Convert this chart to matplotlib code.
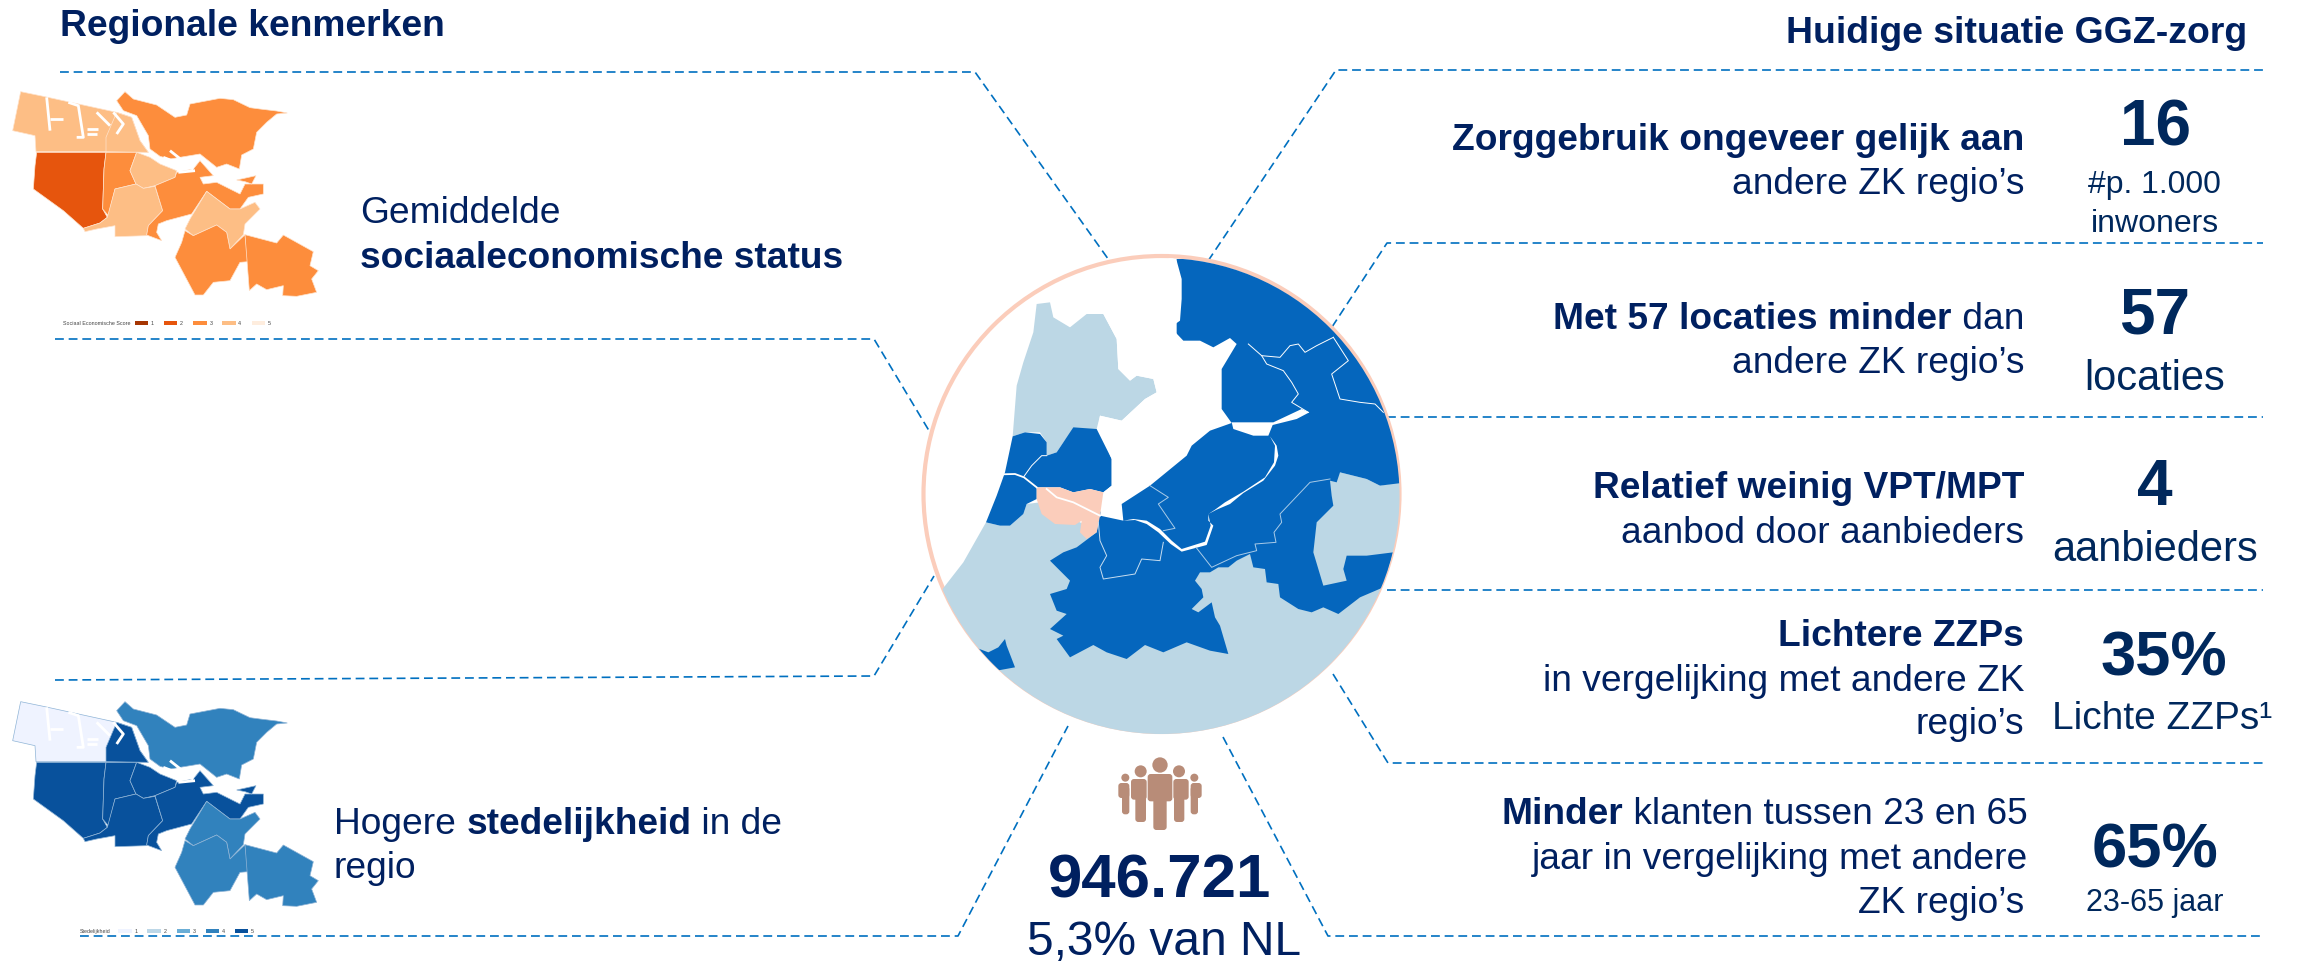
import matplotlib
matplotlib.use("Agg")
import matplotlib.pyplot as plt
from matplotlib.patches import Polygon, Circle, FancyBboxPatch, Rectangle

plt.rcParams['font.family'] = ['Liberation Sans', 'DejaVu Sans']
NAVY = '#002060'; KPI = '#00285C'; LINK = '#0070C0'; LIGHT = '#BCD7E5'; DARK = '#0566BD'; PINK = '#FBCDBB'; ICON = '#B88C78'

# ---------- text content ----------
title_left = "Regionale kenmerken"
title_right = "Huidige situatie GGZ-zorg"
left_labels = [
    (360, 210, [("Gemiddelde", False)]),
    (360, 255, [("sociaaleconomische status", True)]),
    (334, 821, [("Hogere ", False), ("stedelijkheid", True), (" in de", False)]),
    (334, 865, [("regio", False)]),
]
right_labels = [
    (2024, 137, [("Zorggebruik ongeveer gelijk aan", True)]),
    (2024, 181, [("andere ZK regio’s", False)]),
    (2024, 316, [("Met 57 locaties minder", True), (" dan", False)]),
    (2024, 360, [("andere ZK regio’s", False)]),
    (2024, 485, [("Relatief weinig VPT/MPT", True)]),
    (2024, 530, [("aanbod door aanbieders", False)]),
    (2024, 633, [("Lichtere ZZPs", True)]),
    (2024, 678, [("in vergelijking met andere ZK", False)]),
    (2024, 721, [("regio’s", False)]),
    (2028, 811, [("Minder", True), (" klanten tussen 23 en 65", False)]),
    (2028, 856, [("jaar in vergelijking met andere", False)]),
    (2024, 900, [("ZK regio’s", False)]),
]
kpi_values = [(2155, 123, "16", 46), (2155, 311, "57", 46), (2155, 482, "4", 46), (2164, 653, "35%", 45.5), (2155, 845, "65%", 45.5)]
kpi_units = [(2154, 181, "#p. 1.000", 23), (2155, 220, "inwoners", 23), (2155, 375, "locaties", 30),
             (2155, 546, "aanbieders", 30), (2162, 715, "Lichte ZZPs¹", 28), (2155, 900, "23-65 jaar", 22)]
population = "946.721"
population_share = "5,3% van NL"

# ---------- connector lines (full-size pixels) ----------
connectors = [
    [(60, 73), (975, 73), (1111, 264)],
    [(55, 340), (874, 340), (934, 440)],
    [(55, 681), (874, 677), (934, 577)],
    [(80, 937), (958, 937), (1068, 727)],
    [(1208, 262), (1336, 71), (2263, 71)],
    [(1332, 328), (1387, 244), (2263, 244)],
    [(1387, 418), (2263, 418)],
    [(1387, 591), (2263, 591)],
    [(1333, 675), (1388, 764), (2263, 764)],
    [(1223, 738), (1328, 937), (2263, 937)],
]

# ---------- centre map, outlines in 3x crop coordinates ----------
map_south = [(120,1060),(190,970),(258,850),(300,860),(330,860),(370,825),(380,795),(420,790),(600,880),(1000,950),(1320,700),(1400,720),(1440,740),(1495,730),(1520,730),(1520,1500),(100,1500)]
map_nh = [(410,195),(450,190),(460,235),(510,265),(560,225),(610,225),(650,300),(655,390),(690,425),(710,410),(760,420),(770,460),(735,480),(665,545),(600,530),(590,570),(520,570),(490,610),(470,640),(440,650),(440,610),(420,580),(375,580),(338,592),(350,440),(370,370),(400,280)]
map_kennemer = [(338,592),(375,580),(420,585),(440,610),(440,650),(470,640),(490,610),(520,565),(590,570),(635,660),(635,740),(610,760),(570,750),(520,760),(480,745),(410,745),(410,780),(380,795),(370,825),(330,860),(300,860),(258,850),(290,770),(315,700)]
map_east = [(830,60),(1500,60),(1520,500),(1520,730),(1440,740),(1400,720),(1320,700),(1310,730),(1290,725),(1295,770),(1300,800),(1250,850),(1240,940),(1270,1040),(1340,1025),(1330,990),(1340,950),(1400,950),(1480,940),(1450,1045),(1380,1075),(1315,1125),(1270,1105),(1235,1120),(1195,1110),(1140,1075),(1135,1035),(1100,1030),(1095,990),(1060,985),(1050,945),(1010,965),(985,985),(955,985),(930,1000),(900,1000),(885,1025),(905,1050),(910,1075),(875,1110),(895,1120),(935,1090),(945,1135),(960,1160),(985,1245),(930,1235),(860,1210),(790,1240),(735,1218),(680,1260),(620,1240),(580,1218),(510,1255),(470,1200),(490,1190),(450,1170),(500,1125),(470,1115),(450,1065),(500,1050),(510,1025),(450,965),(490,940),(530,925),(590,880),(600,820),(700,700),(830,500)]
map_lake = [(815,55),(830,65),(845,120),(845,180),(840,245),(812,265),(850,305),(900,305),(940,325),(990,297),(1010,315),(965,390),(965,510),(995,552),(930,575),(875,620),(860,650),(750,740),(665,795),(670,845),(600,830),(610,760),(635,740),(635,660),(595,560),(600,530),(665,545),(735,480),(770,460),(760,420),(710,410),(690,425),(655,390),(650,300),(610,225),(700,100)]
map_channel = [(995,550),(1120,550),(1205,510),(1228,520),(1190,540),(1118,558),(1105,590),(1060,590),(1000,570)]
map_loosdrecht = [(670,845),(705,843),(740,855),(775,880),(812,915),(845,938),(920,918),(940,860),(925,845),(925,825),(950,812),(990,795),(1030,762),(1090,725),(1125,680),(1135,650),(1130,620),(1110,592),(1125,620),(1122,670),(1095,715),(1030,758),(975,790),(945,812),(925,825),(932,860),(915,908),(845,930),(815,905),(780,870),(740,845),(700,840)]
map_amsterdam = [(410,745),(480,745),(520,760),(570,750),(610,760),(600,830),(590,880),(560,900),(540,880),(545,845),(525,858),(465,855),(425,825),(410,780)]
map_blob = [(225,1225),(265,1240),(295,1225),(315,1200),(320,1220),(345,1285),(290,1295),(260,1270)]
map_white_lines = [
    [(302,706),(345,705),(372,715),(410,745)],
    [(440,750),(470,775),(520,790),(560,810),(600,830)],
    [(372,712),(395,680),(425,650),(440,650)],
    [(1045,315),(1085,350),(1100,375),(1150,395),(1175,430),(1195,465),(1175,490),(1225,520)],
    [(1085,350),(1140,355),(1170,320),(1195,315),(1215,340),(1250,320),(1300,295)],
    [(1300,295),(1345,365),(1295,405),(1320,480),(1380,490),(1425,495),(1450,520)],
    [(1290,720),(1230,730),(1140,825),(1145,850),(1122,880),(1128,910),(1065,915),(1070,935),(1010,950),(935,985),(888,925)],
    [(750,740),(805,775),(775,795),(825,868),(790,875)],
    [(595,850),(600,905),(620,950),(600,985),(610,1020),(705,1005),(725,960),(780,965),(790,910)],
]
map_line_colors = ['white', 'white', 'white', 'white', 'white', 'white', '#A9CBE8', '#A9CBE8', '#C9DEF0']

# ---------- Amsterdam district maps, in 3x crop coordinates ----------
d_westpoort = [(62,68),(130,82),(350,130),(395,145),(420,215),(445,250),(410,248),(108,248),(105,200),(38,185)]
d_havens = [(318,248),(318,205),(350,130),(395,145),(420,215),(445,250)]
d_nieuwwest = [(110,250),(318,250),(312,300),(308,420),(322,445),(300,462),(250,478),(190,425),(100,360),(105,290)]
d_west = [(318,250),(410,250),(390,305),(408,345),(345,360),(325,440),(308,420),(312,300)]
d_centrum = [(410,250),(450,265),(480,285),(530,305),(525,325),(465,350),(430,358),(408,345),(390,305)]
d_zuid = [(345,360),(408,345),(430,358),(465,352),(488,425),(445,470),(440,500),(345,503),(345,470),(290,480),(255,488),(250,478),(300,462),(322,445)]
d_oost = [(465,350),(525,325),(530,310),(580,300),(600,275),(640,320),(600,325),(610,345),(650,340),(720,375),(735,345),(790,345),(790,375),(745,385),(720,420),(690,420),(620,367),(575,435),(500,455),(475,465),(470,490),(485,515),(440,498),(445,470),(488,425)]
d_sliver = [(710,333),(768,320),(755,345),(735,338)]
d_noord = [(375,68),(350,95),(370,125),(410,140),(445,200),(450,240),(480,262),(510,270),(600,255),(650,295),(680,285),(718,300),(725,258),(760,240),(770,190),(800,160),(830,135),(862,132),(830,126),(780,120),(750,116),(700,92),(660,88),(570,105),(560,138),(525,145),(470,108),(400,90)]
d_zo_north = [(620,367),(690,420),(720,420),(765,400),(780,420),(735,465),(730,497),(690,540),(680,490),(650,468),(580,500),(555,480),(570,450)]
d_zo_south = [(555,485),(580,500),(650,468),(680,490),(690,540),(735,497),(745,578),(720,580),(690,635),(640,640),(610,678),(585,678),(525,565),(545,520)]
d_far = [(735,497),(830,522),(850,498),(940,548),(930,590),(955,605),(935,630),(950,670),(890,682),(848,680),(850,650),(800,662),(770,645),(748,665)]
districts = [d_westpoort, d_havens, d_nieuwwest, d_west, d_centrum, d_zuid, d_oost, d_sliver, d_noord, d_zo_north, d_zo_south, d_far]
docks = [[(140,85),(150,185)], [(150,150),(190,150)], [(205,100),(235,110),(250,205),(230,205)], [(260,180),(295,180)],
         [(260,195),(290,195)], [(290,130),(330,170)], [(340,130),(370,165),(350,195)], [(510,245),(560,285)],
         [(490,265),(580,300)], [(535,310),(585,305)]]

ses_colors = ['#FDBE85', '#FDBE85', '#E6550D', '#FD8D3C', '#FDBE85', '#FDBE85', '#FD8D3C', '#FD8D3C', '#FD8D3C', '#FDBE85', '#FD8D3C', '#FD8D3C']
urban_colors = ['#EFF3FF', '#08519C', '#08519C', '#08519C', '#08519C', '#08519C', '#08519C', '#08519C', '#3182BD', '#3182BD', '#3182BD', '#3182BD']
ses_legend_title = "Sociaal Economische Score"
urban_legend_title = "Stedelijkheid"
legend_labels = ["1", "2", "3", "4", "5"]
ses_legend_colors = ['#A63603', '#E6550D', '#FD8D3C', '#FDBE85', '#FEEDDE']
urban_legend_colors = ['#EFF3FF', '#BDD7E7', '#6BAED6', '#3182BD', '#08519C']

W, H = 2303, 962
fig = plt.figure(figsize=(W / 100, H / 100), dpi=100)
ax = fig.add_axes([0, 0, 1, 1])
ax.set_xlim(0, W); ax.set_ylim(H, 0); ax.axis('off')
renderer = fig.canvas.get_renderer()

def zm(pts):
    return [(900 + x / 3, 240 + y / 3) for x, y in pts]

def runs(x, y, parts, size, ha='left'):
    """One line of mixed bold and regular text, y being its visual mid-height."""
    base = y + 0.36 * size / 0.72
    objs = [ax.text(0, base, t, fontsize=size, color=NAVY, va='baseline', ha='left',
                    fontweight='bold' if b else 'normal') for t, b in parts]
    widths = [o.get_window_extent(renderer).width for o in objs]
    cur = x - sum(widths) if ha == 'right' else x
    for o, w in zip(objs, widths):
        o.set_x(cur); cur += w

# connectors
for c in connectors:
    xs, ys = zip(*c)
    ax.plot(xs, ys, color=LINK, lw=1.2, dashes=(5.3, 2.9), zorder=1)

# centre map
CX, CY, R = 1161.5, 495, 238
clip = Circle((CX, CY + 2), R, transform=ax.transData)
ax.add_patch(Circle((CX, CY), R, fc='white', ec='none', zorder=2))
ax.add_patch(Circle((CX, CY), R, fc='none', ec=PINK, lw=3, zorder=2.5))
def cp(pts, color, z=3):
    p = Polygon(zm(pts), closed=True, fc=color, ec='none', zorder=z)
    ax.add_patch(p); p.set_clip_path(clip)
cp(map_south, LIGHT)
cp(map_nh, LIGHT)
cp(map_east, DARK, 4)
cp(map_kennemer, DARK, 4)
cp(map_blob, DARK, 4)
cp(map_lake, 'white', 5)
cp(map_channel, 'white', 5)
cp(map_loosdrecht, 'white', 5)
cp(map_amsterdam, PINK, 6)
for i, l in enumerate(map_white_lines):
    xs, ys = zip(*zm(l))
    ln, = ax.plot(xs, ys, color=map_line_colors[i], lw=1.3 if i < 2 else 0.7, zorder=7)
    ln.set_clip_path(clip)

# district maps
def district_map(colors, dy, edge):
    to = lambda pts: [(x / 3, dy + y / 3) for x, y in pts]
    for d, c in zip(districts, colors):
        ax.add_patch(Polygon(to(d), closed=True, fc=c, ec=edge, lw=0.5, zorder=3))
    for dk in docks:
        xs, ys = zip(*to(dk))
        ax.plot(xs, ys, color='white', lw=2.0, solid_capstyle='butt', zorder=4)

district_map(ses_colors, 70, '#FFE3CC')
district_map(urban_colors, 680, '#8FB4D6')

def mini_legend(title, title_x, swatch_x, colors, dy, tcolor='#444444'):
    y = dy + 762 / 3
    ax.text(title_x / 3, y, title, fontsize=3.9, color=tcolor, va='center', ha='left', zorder=9)
    for sx, col, lab in zip(swatch_x, colors, legend_labels):
        ax.add_patch(Rectangle((sx / 3, y - 1.8), 40 / 3, 3.6, fc=col, ec='none', zorder=9))
        ax.text((sx + 48) / 3, y, lab, fontsize=3.9, color=tcolor, va='center', ha='left', zorder=9)

mini_legend(ses_legend_title, 188, [405, 492, 580, 667, 755], ses_legend_colors, 70)
mini_legend(urban_legend_title, 240, [355, 442, 530, 618, 705], urban_legend_colors, 678)

# people icon
def person(cx, head_r, head_y, bx0, bx1, by0, by1, lx0, lx1, ly1):
    to = lambda x, y: (1050 + x / 3, 740 + y / 3)
    hx, hy = to(cx, head_y)
    ax.add_patch(Circle((hx, hy), head_r / 3, fc=ICON, ec='none', zorder=5))
    for a0, a1, b0, b1 in [(bx0, bx1, by0, by1), (lx0, lx1, by0 + 10, ly1)]:
        (x0, y0), (x1, y1) = to(a0, b0), to(a1, b1)
        ax.add_patch(FancyBboxPatch((x0 + 2, y0 + 2), x1 - x0 - 4, y1 - y0 - 4, boxstyle='round,pad=2,rounding_size=3',
                                    fc=ICON, ec='none', zorder=5))
person(226, 12, 116, 205, 238, 132, 177, 216, 238, 226)
person(433, 12, 116, 422, 455, 132, 177, 422, 444, 226)
person(272, 18, 97, 243, 290, 120, 182, 256, 288, 249)
person(387, 18, 97, 370, 416, 120, 182, 372, 403, 249)
person(330, 23, 78, 293, 367, 105, 187, 310, 350, 273)

# text
runs(60, 23, [(title_left, True)], 26.8)
runs(2247, 30, [(title_right, True)], 26.9, ha='right')
for x, y, parts in left_labels:
    runs(x, y, parts, 26.7)
for x, y, parts in right_labels:
    runs(x, y, parts, 26.7, ha='right')
for x, y, t, s in kpi_values:
    ax.text(x, y + 0.36 * s / 0.72, t, fontsize=s, fontweight='bold', color=KPI, ha='center', va='baseline')
for x, y, t, s in kpi_units:
    ax.text(x, y + 0.36 * s / 0.72, t, fontsize=s, color=KPI, ha='center', va='baseline')
ax.text(1160, 875 + 0.36 * 44.5 / 0.72, population, fontsize=44.5, fontweight='bold', color=NAVY, ha='center', va='baseline')
ax.text(1164, 938 + 0.36 * 34.5 / 0.72, population_share, fontsize=34.5, color=NAVY, ha='center', va='baseline')

fig.savefig('out.png', dpi=100)
